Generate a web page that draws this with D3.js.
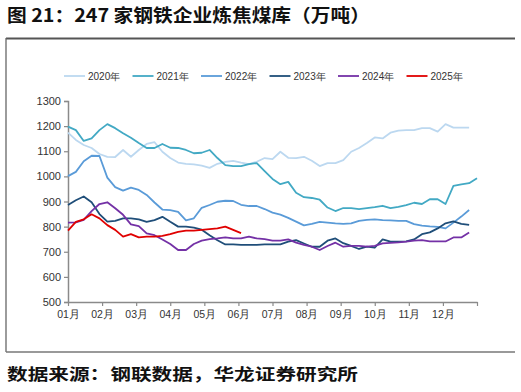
<!DOCTYPE html>
<html><head><meta charset="utf-8">
<script src="https://cdn.jsdelivr.net/npm/d3@7"></script>
<style>
body{margin:0;background:#fff;}
svg{display:block;}
</style></head>
<body>
<svg id="c" width="521" height="392"></svg>
<script>
const monthLabels = ["01月","02月","03月","04月","05月","06月","07月","08月","09月","10月","11月","12月"];
const yTicks = [500,600,700,800,900,1000,1100,1200,1300];
const seriesNames = ["2020年","2021年","2022年","2023年","2024年","2025年"];
const seriesColors = ["#bcd8f0","#42a9c4","#5a9bd8","#1f4e79","#7431a6","#e00000"];

const s2020 = [1174,1145,1125,1113,1089,1078,1077,1105,1078,1105,1129,1136,1098,1073,1055,1050,1048,1043,1034,1050,1058,1062,1055,1049,1058,1073,1069,1098,1074,1073,1078,1062,1041,1053,1053,1065,1098,1113,1133,1155,1151,1174,1182,1184,1184,1192,1192,1178,1208,1194,1194,1194];
const s2021 = [1198,1184,1141,1151,1184,1208,1192,1172,1154,1133,1113,1113,1129,1114,1113,1105,1092,1094,1105,1073,1045,1041,1041,1049,1053,1021,990,969,978,935,917,914,907,876,862,874,874,870,874,878,883,874,879,886,895,890,909,909,890,962,968,973,993];
const s2022 = [1001,1018,1060,1082,1081,995,957,943,955,946,926,896,868,866,859,825,833,875,886,899,903,902,887,882,882,870,856,848,835,820,805,811,819,816,813,811,813,823,827,829,826,825,823,823,810,804,801,799,793,816,840,866];
const s2023 = [886,905,920,897,850,820,823,833,833,829,819,826,839,819,800,800,796,788,766,746,729,729,727,727,727,729,729,729,740,746,733,720,720,744,753,734,723,711,720,716,749,740,740,741,749,770,777,793,813,821,811,807];
const s2024 = [816,817,827,862,890,897,873,847,809,802,773,766,749,731,707,707,731,744,750,753,757,753,753,760,753,750,744,744,749,736,727,720,707,723,736,720,723,723,720,723,733,735,737,740,744,746,741,741,741,757,757,777];
const s2025 = [784,819,829,849,833,806,787,760,770,757,760,760,763,770,779,784,784,787,790,793,800,787,774];
const allSeries = [s2020,s2021,s2022,s2023,s2024,s2025];

const svg = d3.select("#c");
const font = "'Liberation Sans', Arial, sans-serif";
const cjk = "'Noto Sans CJK SC', sans-serif";

// Title
svg.append("text").attr("x",7).attr("y",22)
  .attr("font-family",cjk).attr("font-weight","bold").attr("font-size",18)
  .attr("fill","#111").attr("textLength",363).attr("lengthAdjust","spacingAndGlyphs")
  .text("图 21：247 家钢铁企业炼焦煤库（万吨）");

// Frame
svg.append("line").attr("x1",6).attr("x2",515).attr("y1",38.5).attr("y2",38.5).attr("stroke","#555").attr("stroke-width",2);
svg.append("line").attr("x1",6).attr("x2",6).attr("y1",38).attr("y2",352).attr("stroke","#666").attr("stroke-width",1.3);
svg.append("line").attr("x1",6).attr("x2",515).attr("y1",352).attr("y2",352).attr("stroke","#777").attr("stroke-width",1.5);

// Source
svg.append("text").attr("x",7).attr("y",380)
  .attr("font-family",cjk).attr("font-weight","bold").attr("font-size",16)
  .attr("fill","#111").attr("textLength",351).attr("lengthAdjust","spacingAndGlyphs")
  .text("数据来源：钢联数据，华龙证券研究所");

const x = d3.scaleLinear().domain([0,52]).range([68,477]);
const y = d3.scaleLinear().domain([500,1300]).range([302,101]);

// Y axis
const yAxis = svg.append("g").attr("transform","translate(68,0)")
  .call(d3.axisLeft(y).tickValues(yTicks).tickSize(4).tickPadding(3).tickFormat(d3.format("d")));
yAxis.select(".domain").attr("stroke","#8a8a8a").attr("stroke-width",1.5);
yAxis.selectAll(".tick line").attr("stroke","#8a8a8a").attr("stroke-width",1.2);
yAxis.selectAll("text").attr("font-family",font).attr("font-size",11).attr("fill","#333");

// X axis
const xTickVals = d3.range(13).map(i => i*52/12);
const xAxis = svg.append("g").attr("transform","translate(0,302)")
  .call(d3.axisBottom(x).tickValues(xTickVals).tickSize(4).tickSizeOuter(0).tickPadding(5)
    .tickFormat((d,i) => i < monthLabels.length ? monthLabels[i] : ""));
xAxis.select(".domain").attr("stroke","#8a8a8a").attr("stroke-width",1.5);
xAxis.selectAll(".tick line").attr("stroke","#8a8a8a").attr("stroke-width",1.2);
xAxis.selectAll("text").attr("font-family",font).attr("font-size",10.5).attr("fill","#333");

// Lines
const line = d3.line().x((d,i)=>x(i)).y(d=>y(d));
allSeries.forEach((s,k)=>{
  svg.append("path").datum(s).attr("d",line).attr("fill","none")
    .attr("stroke",seriesColors[k]).attr("stroke-width",1.8).attr("stroke-linejoin","round");
});

// Legend
const lg = svg.append("g").attr("transform","translate(0,76)");
seriesNames.forEach((n,k)=>{
  const gx = 64 + k*68.5;
  lg.append("line").attr("x1",gx).attr("x2",gx+21).attr("y1",0).attr("y2",0)
    .attr("stroke",seriesColors[k]).attr("stroke-width",1.8);
  lg.append("text").attr("x",gx+24).attr("y",3.8).attr("font-family",font).attr("font-size",10)
    .attr("fill","#333").text(n);
});
</script>
</body></html>
